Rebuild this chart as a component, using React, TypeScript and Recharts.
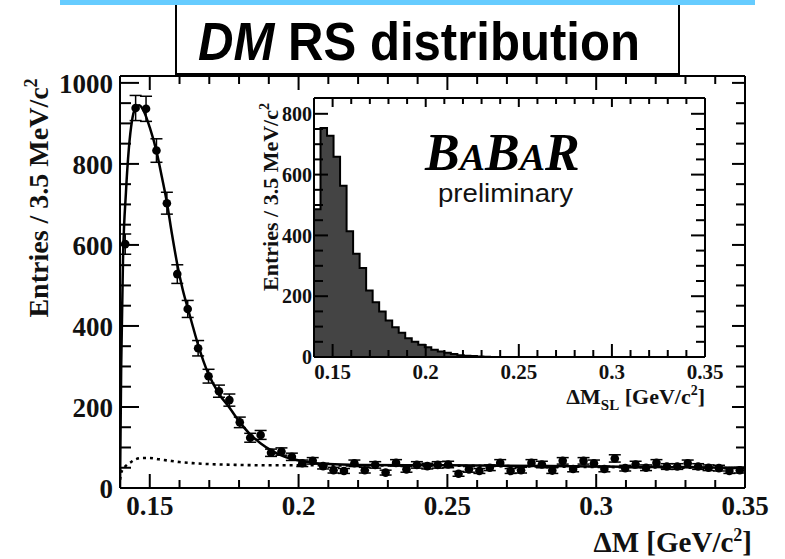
import React from "react";
import { ComposedChart, Scatter, Line, Area, XAxis, YAxis, ErrorBar } from "recharts";

// 3.5 MeV bins from 0.14 to 0.35 GeV
const BIN_W = 0.0035;
const X_MIN = 0.14;

const mainCounts = [
  602, 938, 936, 833, 703, 528, 442, 345, 276, 239, 217, 162, 124, 131, 87, 90,
  77, 61, 67, 54, 44, 42, 61, 44, 57, 38, 62, 46, 57, 54, 57, 58, 35, 46, 42, 50,
  62, 42, 44, 62, 58, 43, 67, 47, 67, 61, 47, 73, 49, 58, 50, 62, 53, 53, 61, 53,
  50, 49, 42, 44,
];
const mainErrors = [
  25, 31, 31, 29, 27, 23, 21, 19, 17, 15, 15, 13, 11, 11, 9, 9,
  9, 8, 8, 7, 7, 6, 8, 7, 8, 6, 8, 7, 8, 7, 8, 8, 6, 7, 6, 7,
  8, 6, 7, 8, 8, 7, 8, 7, 8, 8, 7, 9, 7, 8, 7, 8, 7, 7, 8, 7,
  7, 7, 6, 7,
];

const fitX = [
  0.14, 0.1404, 0.141, 0.142, 0.143, 0.144, 0.145, 0.1465, 0.148, 0.15, 0.1523,
  0.154, 0.1558, 0.1575, 0.1593, 0.161, 0.1628, 0.1645, 0.1663, 0.168, 0.1698,
  0.1733, 0.1768, 0.1803, 0.1838, 0.1873, 0.1908, 0.195, 0.2, 0.205, 0.21, 0.22,
  0.25, 0.3, 0.35,
];
const fitY = [
  0, 300, 560, 730, 840, 905, 935, 945, 930, 890, 830, 770, 703, 625, 550, 492,
  443, 398, 352, 314, 280, 232, 198, 162, 132, 110, 93, 78, 68, 62, 59, 57, 56,
  53, 50,
];

const bkgX = [0.14, 0.1405, 0.142, 0.1435, 0.145, 0.1475, 0.15, 0.153, 0.156, 0.16, 0.165, 0.17, 0.18, 0.19, 0.2, 0.25, 0.3, 0.35];
const bkgY = [20, 40, 55, 63, 70, 74, 74, 71, 68, 64, 61, 59, 57, 56, 56, 55, 52, 49];

const insetCounts = [
  486, 753, 728, 659, 563, 414, 340, 293, 219, 180, 150, 120, 98, 80, 62, 50,
  40, 32, 24, 18, 14, 10, 6, 4, 3, 2, 1, 0, 0, 0, 0, 0, 0, 0, 0, 0, 0, 0, 0, 0,
  0, 0, 0, 0, 0, 0, 0, 0, 0, 0, 0, 0, 0, 0, 0, 0, 0, 0, 0, 0,
];

const xTicks = [
  0.14, 0.15, 0.16, 0.17, 0.18, 0.19, 0.2, 0.21, 0.22, 0.23, 0.24, 0.25, 0.26,
  0.27, 0.28, 0.29, 0.3, 0.31, 0.32, 0.33, 0.34, 0.35,
];
const mainYTicks = [0, 50, 100, 150, 200, 250, 300, 350, 400, 450, 500, 550, 600, 650, 700, 750, 800, 850, 900, 950, 1000];
const insetYTicks = [0, 50, 100, 150, 200, 250, 300, 350, 400, 450, 500, 550, 600, 650, 700, 750, 800];

const points = mainCounts.map((y, i) => ({ x: X_MIN + BIN_W * (i + 0.5), y, err: mainErrors[i] }));
const fitData = fitX.map((x, i) => ({ x, y: fitY[i] }));
const bkgData = bkgX.map((x, i) => ({ x, y: bkgY[i] }));
const insetData = [
  ...insetCounts.map((y, i) => ({ x: X_MIN + BIN_W * i, y })),
  { x: 0.35, y: insetCounts[insetCounts.length - 1] },
];

const SERIF = "'Liberation Serif', 'Times New Roman', serif";
const SANS = "'Liberation Sans', Arial, sans-serif";

const isMult = (v: number, step: number) => Math.abs(v / step - Math.round(v / step)) < 1e-6;
const fmt = (v: number) => String(Number(v.toFixed(2)));

// ROOT-like inward ticks
function makeXTick(opts: { top?: boolean; big: number; small: number; fs: number; dy: number }) {
  return (p: any) => {
    const v = p.payload.value;
    const major = isMult(v, 0.05);
    const len = major ? opts.big : opts.small;
    const y0 = opts.top ? p.y + 1 : p.y - 1;
    const dir = opts.top ? 1 : -1;
    return (
      <g>
        <line x1={p.x} x2={p.x} y1={y0} y2={y0 + dir * len} stroke="#000" strokeWidth={2} />
        {!opts.top && major && v > 0.145 && (
          <text x={p.x} y={y0 + opts.dy} textAnchor="middle" fontFamily={SERIF} fontWeight="bold" fontSize={opts.fs} fill="#111">
            {fmt(v)}
          </text>
        )}
      </g>
    );
  };
}

function makeYTick(opts: { right?: boolean; big: number; small: number; fs: number; gap: number }) {
  return (p: any) => {
    const v = p.payload.value;
    const major = isMult(v, 200);
    const len = major ? opts.big : opts.small;
    const x0 = opts.right ? p.x - 1 : p.x + 1;
    const dir = opts.right ? -1 : 1;
    return (
      <g>
        <line x1={x0} x2={x0 + dir * len} y1={p.y} y2={p.y} stroke="#000" strokeWidth={2} />
        {!opts.right && major && (
          <text x={x0 - opts.gap} y={p.y} dy="0.36em" textAnchor="end" fontFamily={SERIF} fontWeight="bold" fontSize={opts.fs} fill="#111">
            {v}
          </text>
        )}
      </g>
    );
  };
}

const frame = { stroke: "#000", strokeWidth: 2 };
const axisCommon = {
  interval: 0 as const,
  tickSize: 0,
  tickMargin: 0,
  tickLine: false,
  axisLine: frame,
  allowDataOverflow: true,
};

export default function App() {
  return (
    <div style={{ position: "absolute", left: 0, top: 0, width: 785, height: 559, background: "#fff", overflow: "hidden" }}>
      {/* main plot: area x 120..745, y 76..488 */}
      <div style={{ position: "absolute", left: 0, top: 0 }}>
        <ComposedChart width={785} height={559} margin={{ top: 75, right: 39, bottom: 70, left: 119 }}>
          <XAxis xAxisId="b" type="number" dataKey="x" domain={[0.14, 0.35]} ticks={xTicks} height={1} {...axisCommon} tick={makeXTick({ big: 13, small: 7, fs: 27, dy: 28 })} />
          <XAxis xAxisId="t" orientation="top" type="number" dataKey="x" domain={[0.14, 0.35]} ticks={xTicks} height={1} {...axisCommon} tick={makeXTick({ top: true, big: 13, small: 7, fs: 27, dy: 0 })} />
          <YAxis yAxisId="l" type="number" dataKey="y" domain={[0, 1017]} ticks={mainYTicks} width={1} {...axisCommon} tick={makeYTick({ big: 18, small: 10, fs: 27, gap: 8 })} />
          <YAxis yAxisId="r" orientation="right" type="number" dataKey="y" domain={[0, 1017]} ticks={mainYTicks} width={1} {...axisCommon} tick={makeYTick({ right: true, big: 12, small: 8, fs: 27, gap: 8 })} />
          <Line xAxisId="b" yAxisId="l" data={bkgData} dataKey="y" type="monotone" stroke="#000" strokeWidth={2.6} strokeDasharray="3 4" dot={false} isAnimationActive={false} />
          <Line xAxisId="b" yAxisId="l" data={fitData} dataKey="y" type="monotone" stroke="#000" strokeWidth={2.5} dot={false} isAnimationActive={false} />
          <Scatter
            xAxisId="b"
            yAxisId="l"
            data={points}
            dataKey="y"
            isAnimationActive={false}
            shape={(p: any) => <circle cx={p.cx} cy={p.cy} r={4.3} fill="#000" />}
          >
            <ErrorBar dataKey="err" direction="y" width={6} stroke="#000" strokeWidth={1.5} />
          </Scatter>
        </ComposedChart>
      </div>

      {/* inset histogram: area x 314..705, y 98..357 */}
      <div style={{ position: "absolute", left: 0, top: 0 }}>
        <ComposedChart width={785} height={559} margin={{ top: 97, right: 79, bottom: 201, left: 313 }}>
          <XAxis xAxisId="b" type="number" dataKey="x" domain={[0.14, 0.35]} ticks={xTicks} height={1} {...axisCommon} tick={makeXTick({ big: 12, small: 6, fs: 21, dy: 23 })} />
          <XAxis xAxisId="t" orientation="top" type="number" dataKey="x" domain={[0.14, 0.35]} ticks={xTicks} height={1} {...axisCommon} tick={makeXTick({ top: true, big: 8, small: 5, fs: 21, dy: 0 })} />
          <YAxis yAxisId="l" type="number" dataKey="y" domain={[0, 852]} ticks={insetYTicks} width={1} {...axisCommon} tick={makeYTick({ big: 13, small: 8, fs: 20, gap: 3 })} />
          <YAxis yAxisId="r" orientation="right" type="number" dataKey="y" domain={[0, 852]} ticks={insetYTicks} width={1} {...axisCommon} tick={makeYTick({ right: true, big: 13, small: 8, fs: 20, gap: 3 })} />
          <Area xAxisId="b" yAxisId="l" data={insetData} dataKey="y" type="stepAfter" baseValue={0} fill="#444" fillOpacity={1} stroke="#000" strokeWidth={2} dot={false} activeDot={false} isAnimationActive={false} />
        </ComposedChart>
      </div>

      {/* titles and text */}
      <svg width={785} height={559} style={{ position: "absolute", left: 0, top: 0, pointerEvents: "none" }}>
        <text transform="translate(48,198) rotate(-90)" textAnchor="middle" fontFamily={SERIF} fontWeight="bold" fontSize={28} fill="#111">
          Entries / 3.5 MeV/c<tspan dy={-11} fontSize={18}>2</tspan>
        </text>
        <text x={752} y={552} textAnchor="end" fontFamily={SERIF} fontWeight="bold" fontSize={29} fill="#111">
          ΔM [GeV/c<tspan dy={-11} fontSize={18}>2</tspan><tspan dy={11}>]</tspan>
        </text>
        <text transform="translate(278,197) rotate(-90)" textAnchor="middle" fontFamily={SERIF} fontWeight="bold" fontSize={22} fill="#111">
          Entries / 3.5 MeV/c<tspan dy={-9} fontSize={14}>2</tspan>
        </text>
        <text x={705} y={404} textAnchor="end" fontFamily={SERIF} fontWeight="bold" fontSize={22} fill="#111">
          ΔM<tspan dy={6} fontSize={15}>SL</tspan>
          <tspan dy={-6}> [GeV/c</tspan>
          <tspan dy={-9} fontSize={14}>2</tspan>
          <tspan dy={9}>]</tspan>
        </text>
        <text x={425} y={170} fontFamily={SERIF} fontWeight="bold" fontStyle="italic" fontSize={52} fill="#000">
          B<tspan fontSize={38}>A</tspan>B<tspan fontSize={38}>A</tspan>R
        </text>
        <text x={438} y={202} textLength={135} lengthAdjust="spacingAndGlyphs" fontFamily={SANS} fontSize={26} fill="#111">
          preliminary
        </text>
      </svg>

      {/* slide title */}
      <div style={{ position: "absolute", left: 60, top: 0, width: 695, height: 5, background: "#66ccff" }} />
      <div
        style={{
          position: "absolute",
          left: 175,
          top: 5,
          width: 501,
          height: 68,
          borderLeft: "2px solid #000",
          borderRight: "2px solid #000",
          borderBottom: "2px solid #000",
          background: "#fff",
        }}
      />
      <svg width={785} height={80} style={{ position: "absolute", left: 0, top: 0, pointerEvents: "none" }}>
        <text x={198} y={60} textLength={442} lengthAdjust="spacingAndGlyphs" fontFamily={SANS} fontWeight="bold" fontSize={53} fill="#000">
          <tspan fontStyle="italic">DM</tspan> RS distribution
        </text>
      </svg>
    </div>
  );
}
